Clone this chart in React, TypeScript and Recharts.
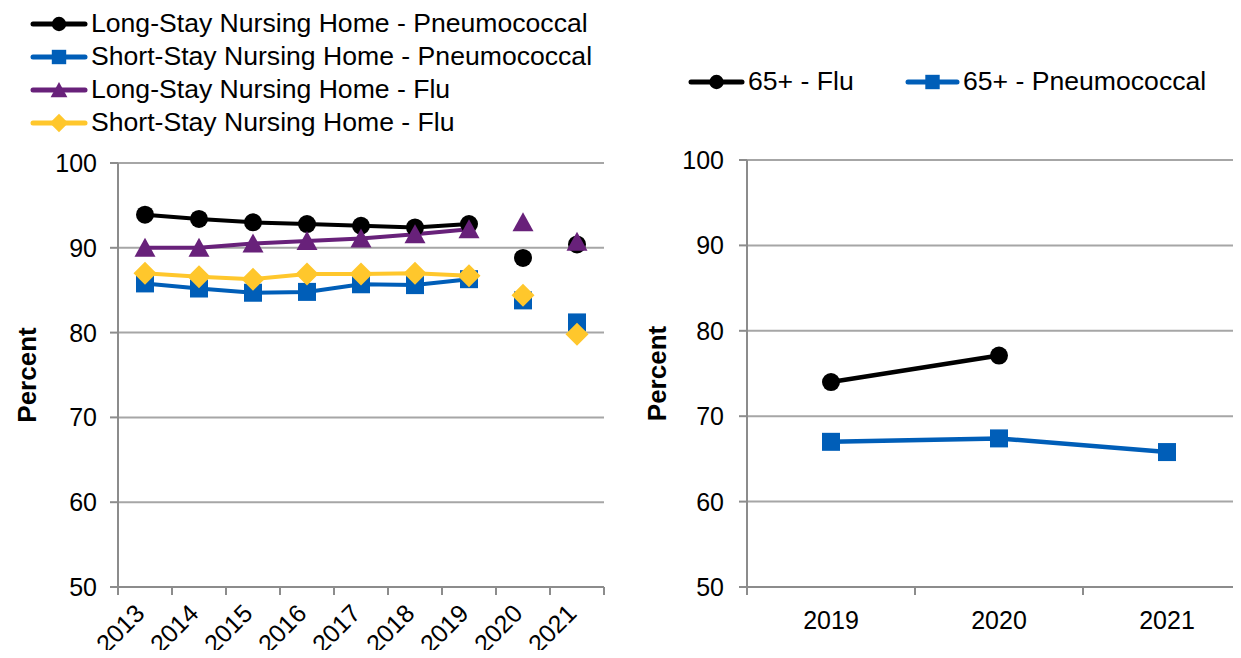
import React from "react";
import { LineChart, Line, XAxis, YAxis, CartesianGrid, Label } from "recharts";

// left panel: nursing home residents
const years = ["2013", "2014", "2015", "2016", "2017", "2018", "2019", "2020", "2021"];
const lsPneumo = [93.9, 93.4, 93.0, 92.8, 92.6, 92.4, 92.8, 88.8, 90.4];
const ssPneumo = [85.8, 85.2, 84.7, 84.8, 85.7, 85.6, 86.3, 83.8, 81.2];
const lsFlu = [90.0, 90.0, 90.5, 90.8, 91.1, 91.6, 92.2, 93.0, 90.7];
const ssFlu = [87.0, 86.6, 86.3, 86.9, 86.9, 87.0, 86.7, 84.4, 79.8];
const breakIndex = 7; // 2020 on is shown without joining the earlier trend

// right panel: 65+
const years65 = ["2019", "2020", "2021"];
const flu65 = [74.0, 77.1, null];
const pneumo65 = [67.0, 67.4, 65.8];

const yTicks = [50, 60, 70, 80, 90, 100];

const BLACK = "#000000";
const BLUE = "#005EB8";
const PURPLE = "#68217A";
const YELLOW = "#FFC72C";
const GRID = "#A6A6A6";
const AXIS = "#8C8C8C";
const FONT = '"Liberation Sans", Arial, sans-serif';

const LEFT_STEP = 54;
const RIGHT_STEP = 168;

type Shape = "circle" | "square" | "triangle" | "diamond";

const leftSeries: { name: string; values: (number | null)[]; color: string; shape: Shape }[] = [
    { name: "Long-Stay Nursing Home - Pneumococcal", values: lsPneumo, color: BLACK, shape: "circle" },
    { name: "Short-Stay Nursing Home - Pneumococcal", values: ssPneumo, color: BLUE, shape: "square" },
    { name: "Long-Stay Nursing Home - Flu", values: lsFlu, color: PURPLE, shape: "triangle" },
    { name: "Short-Stay Nursing Home - Flu", values: ssFlu, color: YELLOW, shape: "diamond" },
];

const rightSeries: { name: string; values: (number | null)[]; color: string; shape: Shape }[] = [
    { name: "65+ - Flu", values: flu65, color: BLACK, shape: "circle" },
    { name: "65+ - Pneumococcal", values: pneumo65, color: BLUE, shape: "square" },
];

const leftData = years.map((year, i) => {
    const row: any = { year };
    leftSeries.forEach((s, k) => {
        row[`a${k}`] = i < breakIndex ? s.values[i] : null;
        row[`b${k}`] = i >= breakIndex ? s.values[i] : null;
    });
    return row;
});

const rightData = years65.map((year, i) => {
    const row: any = { year };
    rightSeries.forEach((s, k) => {
        row[`s${k}`] = s.values[i];
    });
    return row;
});

function Marker({ shape, cx, cy, color, s = 1 }: any) {
    if (cx == null || cy == null || isNaN(cx) || isNaN(cy)) return <g />;
    switch (shape) {
        case "circle":
            return <circle cx={cx} cy={cy} r={9 * s} fill={color} />;
        case "square":
            return <rect x={cx - 9 * s} y={cy - 9 * s} width={18 * s} height={18 * s} fill={color} />;
        case "triangle":
            return (
                <polygon
                    points={`${cx},${cy - 10 * s} ${cx + 10.5 * s},${cy + 9 * s} ${cx - 10.5 * s},${cy + 9 * s}`}
                    fill={color}
                />
            );
        default:
            return (
                <polygon
                    points={`${cx},${cy - 11.5 * s} ${cx + 11.5 * s},${cy} ${cx},${cy + 11.5 * s} ${cx - 11.5 * s},${cy}`}
                    fill={color}
                />
            );
    }
}

const dotFor = (shape: Shape, color: string) => (p: any) =>
    <Marker key={`${shape}-${p.index}`} shape={shape} cx={p.cx} cy={p.cy} color={color} />;

const percentLabel = (dx: number) => (props: any) => {
    const vb = props.viewBox || {};
    const cx = (vb.x || 0) + dx;
    const cy = (vb.y || 0) + (vb.height || 0) / 2;
    return (
        <text
            x={cx}
            y={cy}
            transform={`rotate(-90 ${cx} ${cy})`}
            textAnchor="middle"
            dominantBaseline="central"
            fontSize={26}
            fontWeight="bold"
            fill="#000"
        >
            Percent
        </text>
    );
};

// value labels: x is where recharts would put the text end, shift for the wider gap
const valueTick = (shift: number) => (props: any) => {
    const { x, y, payload } = props;
    return (
        <text x={x - shift} y={y} textAnchor="end" dominantBaseline="central" fontSize={25} fill="#000">
            {payload.value}
        </text>
    );
};

function LeftYearTick(props: any) {
    const { x, y, payload, index } = props;
    const half = LEFT_STEP / 2;
    const tx = x + 1;
    const ty = y + 28;
    return (
        <g>
            <line x1={x - half} y1={y} x2={x - half} y2={y + 8} stroke={AXIS} strokeWidth={2} />
            {index === years.length - 1 && (
                <line x1={x + half} y1={y} x2={x + half} y2={y + 8} stroke={AXIS} strokeWidth={2} />
            )}
            <text x={tx} y={ty} transform={`rotate(-45 ${tx} ${ty})`} textAnchor="end" fontSize={25} fill="#000">
                {payload.value}
            </text>
        </g>
    );
}

function RightYearTick(props: any) {
    const { x, y, payload, index } = props;
    const half = RIGHT_STEP / 2;
    return (
        <g>
            <line x1={x - half} y1={y} x2={x - half} y2={y + 8} stroke={AXIS} strokeWidth={2} />
            {index === years65.length - 1 && (
                <line x1={x + half} y1={y} x2={x + half} y2={y + 8} stroke={AXIS} strokeWidth={2} />
            )}
            <text x={x} y={y + 42} textAnchor="middle" fontSize={25} fill="#000">
                {payload.value}
            </text>
        </g>
    );
}

function LegendItem({ color, shape, label, width = 58 }: any) {
    return (
        <div style={{ display: "flex", alignItems: "center", height: 33 }}>
            <svg width={width} height={24} style={{ display: "block" }}>
                <line x1={3} y1={12} x2={width - 3} y2={12} stroke={color} strokeWidth={5} strokeLinecap="round" />
                <Marker shape={shape} cx={width / 2} cy={12} color={color} s={0.8} />
            </svg>
            <span style={{ fontSize: 26.6, lineHeight: 1, marginLeft: 3, whiteSpace: "nowrap" }}>{label}</span>
        </div>
    );
}

const yAxisProps = {
    type: "number" as const,
    domain: [50, 100],
    ticks: yTicks,
    interval: 0 as const,
    tickSize: 8,
    tickMargin: 2,
    axisLine: { stroke: AXIS, strokeWidth: 2 },
    tickLine: { stroke: AXIS, strokeWidth: 2 },
};

export default function App() {
    return (
        <div
            style={{
                position: "relative",
                margin: -8,
                width: 1241,
                height: 658,
                overflow: "hidden",
                background: "#fff",
                fontFamily: FONT,
                color: "#000",
            }}
        >
            <div style={{ position: "absolute", left: 30, top: 7 }}>
                {leftSeries.map((s) => (
                    <LegendItem key={s.name} color={s.color} shape={s.shape} label={s.name} />
                ))}
            </div>

            <div style={{ position: "absolute", left: 0, top: 140 }}>
                <LineChart width={620} height={518} data={leftData} margin={{ top: 23, right: 16, bottom: 0, left: 0 }}>
                    <CartesianGrid vertical={false} stroke={GRID} strokeWidth={2} />
                    <XAxis
                        dataKey="year"
                        height={71}
                        padding={{ left: LEFT_STEP / 2, right: LEFT_STEP / 2 }}
                        interval={0}
                        tickSize={0}
                        tickMargin={0}
                        tickLine={false}
                        axisLine={{ stroke: AXIS, strokeWidth: 2 }}
                        tick={<LeftYearTick />}
                    />
                    <YAxis {...yAxisProps} width={118} tick={valueTick(11)}>
                        <Label content={percentLabel(27)} />
                    </YAxis>
                    {leftSeries.flatMap((s, k) => [
                        <Line
                            key={`a${k}`}
                            dataKey={`a${k}`}
                            stroke={s.color}
                            strokeWidth={4}
                            dot={dotFor(s.shape, s.color)}
                            activeDot={false}
                            isAnimationActive={false}
                        />,
                        <Line
                            key={`b${k}`}
                            dataKey={`b${k}`}
                            stroke="none"
                            dot={dotFor(s.shape, s.color)}
                            activeDot={false}
                            isAnimationActive={false}
                        />,
                    ])}
                </LineChart>
            </div>

            <div style={{ position: "absolute", left: 688, top: 65 }}>
                <LegendItem color={rightSeries[0].color} shape={rightSeries[0].shape} label={rightSeries[0].name} width={57} />
            </div>
            <div style={{ position: "absolute", left: 905, top: 65 }}>
                <LegendItem color={rightSeries[1].color} shape={rightSeries[1].shape} label={rightSeries[1].name} width={55} />
            </div>

            <div style={{ position: "absolute", left: 640, top: 130 }}>
                <LineChart width={611} height={517} data={rightData} margin={{ top: 30, right: 0, bottom: 0, left: 0 }}>
                    <CartesianGrid vertical={false} stroke={GRID} strokeWidth={2} />
                    <XAxis
                        dataKey="year"
                        height={60}
                        padding={{ left: RIGHT_STEP / 2, right: RIGHT_STEP / 2 }}
                        interval={0}
                        tickSize={0}
                        tickMargin={0}
                        tickLine={false}
                        axisLine={{ stroke: AXIS, strokeWidth: 2 }}
                        tick={<RightYearTick />}
                    />
                    <YAxis {...yAxisProps} width={107} tick={valueTick(13)}>
                        <Label content={percentLabel(17)} />
                    </YAxis>
                    {rightSeries.map((s, k) => (
                        <Line
                            key={`s${k}`}
                            dataKey={`s${k}`}
                            stroke={s.color}
                            strokeWidth={4.5}
                            dot={dotFor(s.shape, s.color)}
                            activeDot={false}
                            isAnimationActive={false}
                        />
                    ))}
                </LineChart>
            </div>
        </div>
    );
}
